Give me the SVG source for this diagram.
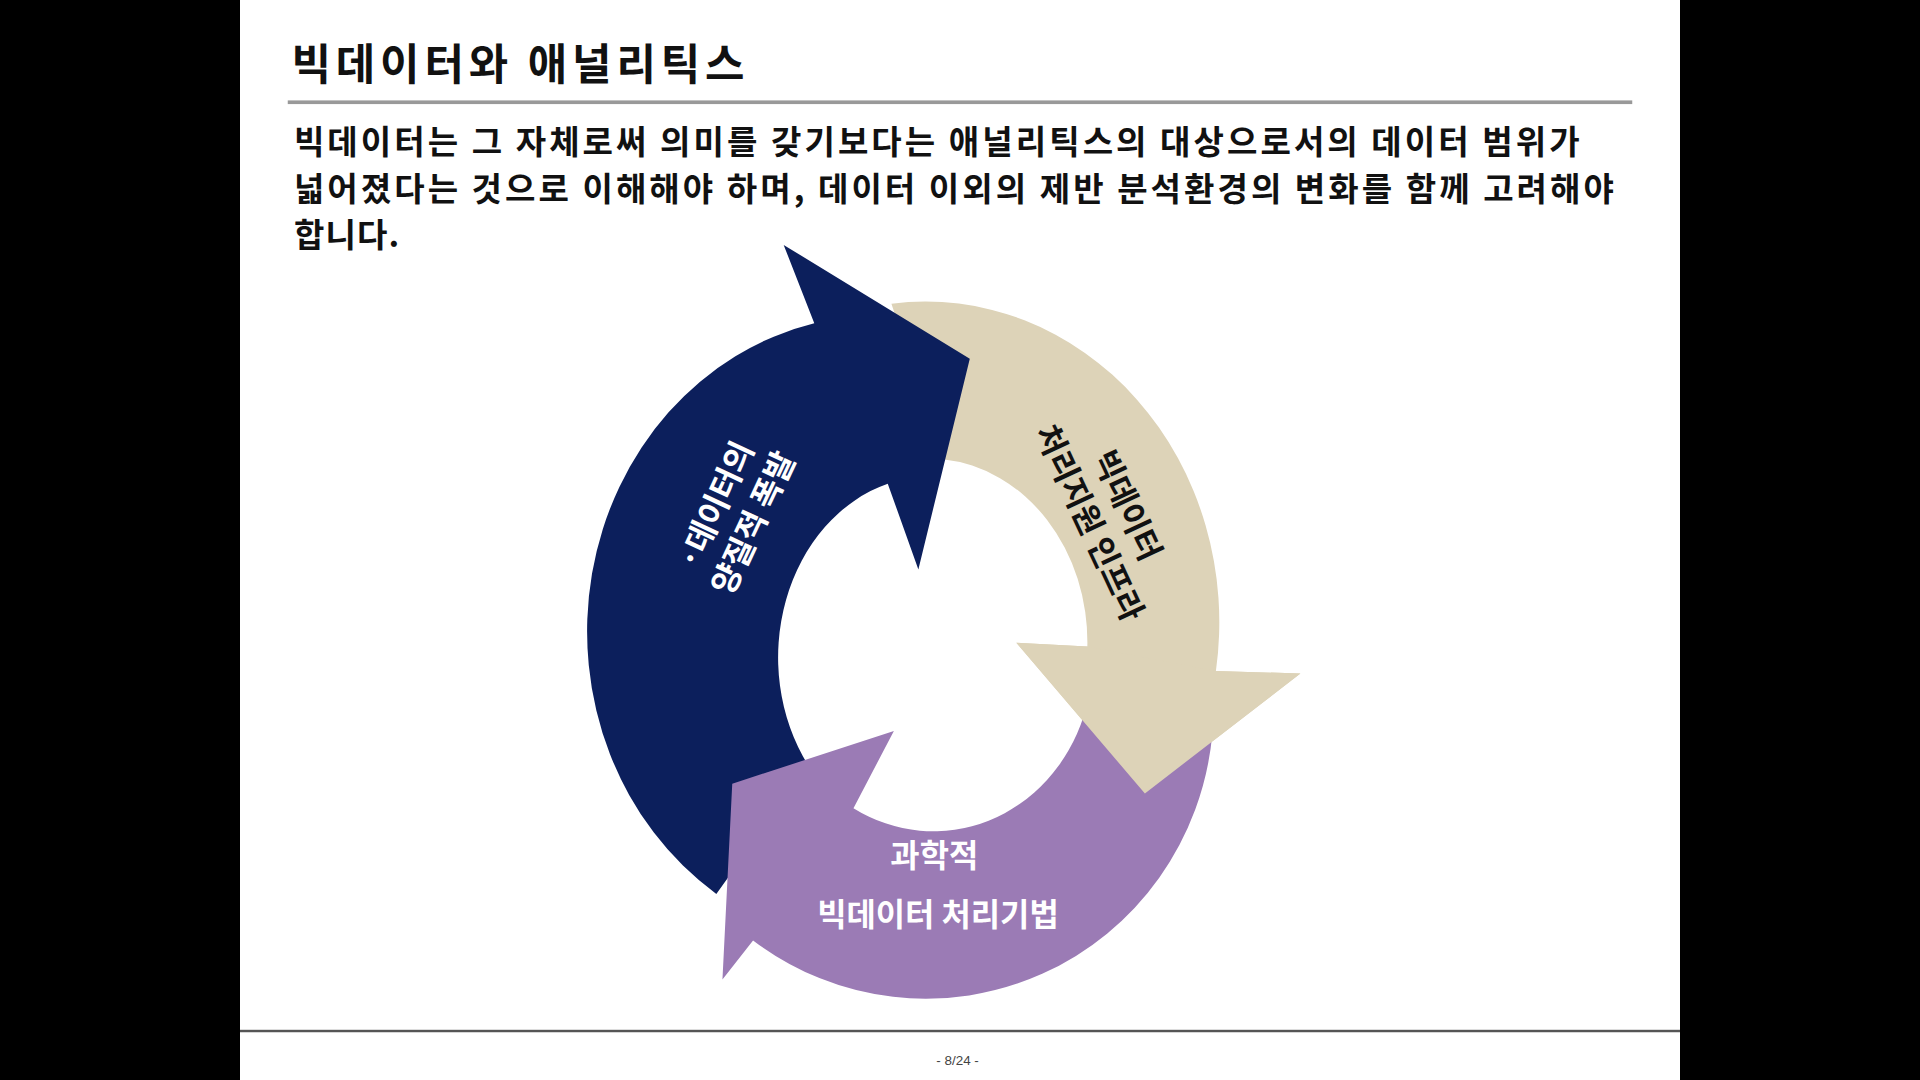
<svg xmlns="http://www.w3.org/2000/svg" width="1920" height="1080" viewBox="0 0 1920 1080">
<style>
.k{font-family:"Noto Sans CJK KR","Noto Sans",sans-serif;font-weight:bold}
</style>
<rect width="1920" height="1080" fill="#000"/>
<g transform="scale(1.22449)">
<rect x="196" y="0" width="1176" height="882" fill="#fff"/>
<g id="title"><text class="k" x="238" y="65" font-size="35" fill="#111" textLength="370" lengthAdjust="spacing">빅데이터와 애널리틱스</text>
<rect x="235" y="82" width="1098" height="3" fill="#999"/></g>
<g id="body" class="k" font-size="27" fill="#111">
<text x="240" y="126" textLength="1050" lengthAdjust="spacing">빅데이터는 그 자체로써 의미를 갖기보다는 애널리틱스의 대상으로서의 데이터 범위가</text>
<text x="240" y="164" textLength="1078" lengthAdjust="spacing">넓어졌다는 것으로 이해해야 하며, 데이터 이외의 제반 분석환경의 변화를 함께 고려해야</text>
<text x="240" y="202" textLength="86" lengthAdjust="spacing">합니다.</text>
</g>
<g id="beige"><path d="M728 248 A240 262 0 0 1 993 548 L1062 550 L935 648 L830 525 L888 528 A130 150 0 0 0 770 375 Z" fill="#ddd3b8"/></g>
<g id="navy"><path d="M585 730 A238 258 0 0 1 665 264 L640 200 L792 293 L750 465 L725 395 A125 148 0 0 0 660 625 Z" fill="#0c1f5c"/></g>
<g id="purple"><path d="M990 600 A235 238 0 0 1 615 768 L590 800 L598 640 L730 597 L697 660 A130 140 0 0 0 885 585 Z" fill="#9b7bb5"/></g>
<path d="M993 548 L1062 550 L935 648 L830 525 L888 528 Z" fill="#ddd3b8"/>
<g class="k" font-size="26" text-anchor="middle">
<g transform="translate(600,420) rotate(-65)" fill="#fff"><text x="0" y="-8">·데이터의</text><text x="0" y="26">양질적 폭발</text></g>
<g transform="translate(905,420) rotate(65)" fill="#111"><text x="0" y="-8">빅데이터</text><text x="0" y="26">처리지원 인프라</text></g>
<g fill="#fff"><text x="763" y="708">과학적</text><text x="766" y="756">빅데이터 처리기법</text></g>
</g>
<g id="footer"><rect x="196" y="841" width="1176" height="2" fill="#555"/>
<text x="782" y="870" font-family="Liberation Sans,sans-serif" font-size="11" fill="#444" text-anchor="middle">- 8/24 -</text></g>
</g>
</svg>
